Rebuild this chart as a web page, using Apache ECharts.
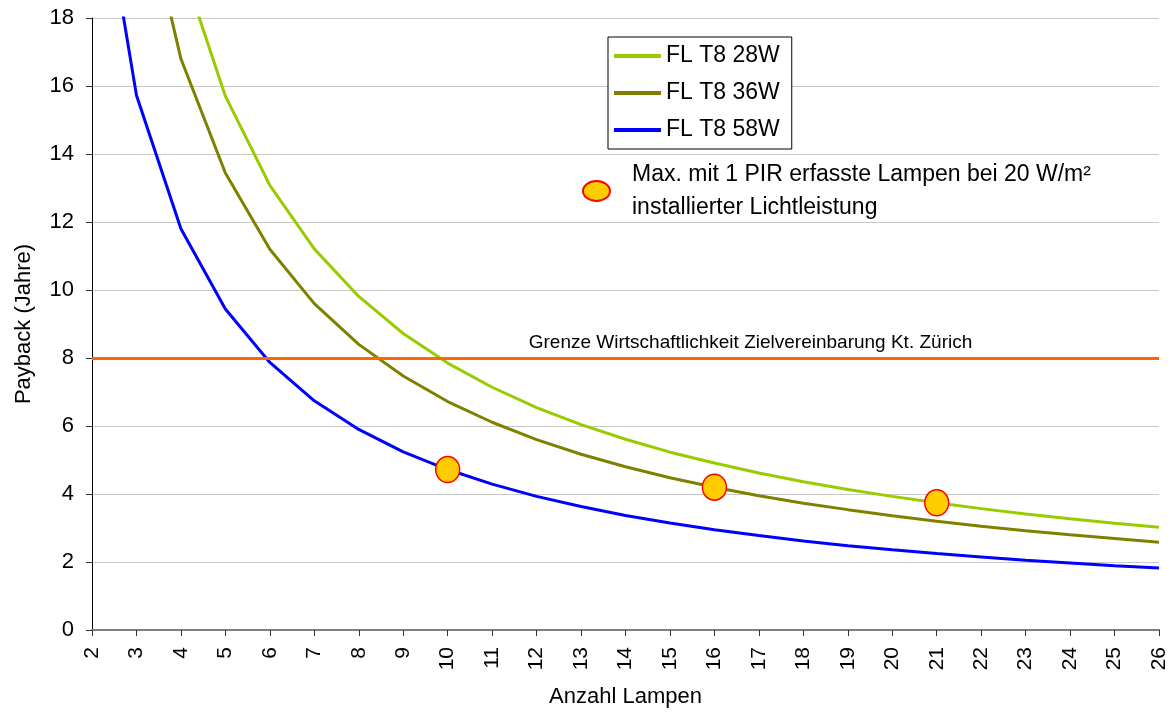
<!DOCTYPE html>
<html>
<head>
<meta charset="utf-8">
<script src="https://cdn.jsdelivr.net/npm/echarts@6/dist/echarts.min.js"></script>
<style>
html,body{margin:0;padding:0;background:#fff;}
#chart{width:1173px;height:713px;}
</style>
</head>
<body>
<div id="chart"></div>
<script>
// Categories: number of lamps
const lampCounts = ['2','3','4','5','6','7','8','9','10','11','12','13','14','15','16','17','18','19','20','21','22','23','24','25','26'];
// Payback (years)
const fl28 = [39.25, 26.17, 19.63, 15.70, 13.08, 11.21, 9.81, 8.72, 7.85, 7.14, 6.54, 6.04, 5.61, 5.23, 4.91, 4.62, 4.36, 4.13, 3.93, 3.74, 3.57, 3.41, 3.27, 3.14, 3.02];
const fl36 = [33.6, 22.4, 16.8, 13.44, 11.2, 9.6, 8.4, 7.47, 6.72, 6.11, 5.6, 5.17, 4.8, 4.48, 4.2, 3.95, 3.73, 3.54, 3.36, 3.2, 3.05, 2.92, 2.8, 2.69, 2.58];
const fl58 = [23.6, 15.73, 11.8, 9.44, 7.87, 6.74, 5.9, 5.24, 4.72, 4.29, 3.93, 3.63, 3.37, 3.15, 2.95, 2.78, 2.62, 2.48, 2.36, 2.25, 2.15, 2.05, 1.97, 1.89, 1.82];
// Max. lamps covered by one PIR
const pirX = ['10', '16', '21'];
const pirY = [4.72, 4.2, 3.74];
// Economic limit
const limitValue = 8;
const limitLabel = 'Grenze Wirtschaftlichkeit Zielvereinbarung Kt. Zürich';
const seriesNames = ['FL T8 28W', 'FL T8 36W', 'FL T8 58W'];
const pirName = 'Max. mit 1 PIR erfasste Lampen bei 20 W/m²\ninstallierter Lichtleistung';
const yTicks = {min: 0, max: 18, interval: 2};

const FONT = '"Liberation Sans", Arial, sans-serif';
const chart = echarts.init(document.getElementById('chart'), null, {renderer: 'canvas'});

const option = {
  backgroundColor: '#ffffff',
  animation: false,
  textStyle: {fontFamily: FONT, color: '#000'},
  grid: {left: 92, right: 14, top: 18, bottom: 82, containLabel: false},
  legend: [
    {
      data: seriesNames.map(n => ({name: n, icon: 'rect'})),
      orient: 'vertical',
      left: 608,
      top: 37,
      padding: [7, 12, 7, 6],
      itemGap: 13,
      itemWidth: 47,
      itemHeight: 4,
      backgroundColor: '#fff',
      borderColor: '#000',
      borderWidth: 1,
      textStyle: {fontFamily: FONT, fontSize: 23, color: '#000', lineHeight: 24},
      selectedMode: false
    },
    {
      data: [{name: pirName, icon: 'path://M0,10A13.5,10,0,1,1,27,10A13.5,10,0,1,1,0,10Z'}],
      orient: 'vertical',
      left: 582,
      top: 158,
      padding: 0,
      itemWidth: 27,
      itemHeight: 20,
      itemGap: 0,
      textStyle: {fontFamily: FONT, fontSize: 23, color: '#000', lineHeight: 33, padding: [0, 0, 0, 17]},
      selectedMode: false
    }
  ],
  xAxis: {
    type: 'category',
    data: lampCounts,
    boundaryGap: false,
    name: 'Anzahl Lampen',
    nameLocation: 'middle',
    nameGap: 56,
    nameTextStyle: {fontFamily: FONT, fontSize: 22, color: '#000'},
    axisLine: {show: true, onZero: false, lineStyle: {color: '#808080', width: 2}},
    axisTick: {show: true, alignWithLabel: true, length: 6, lineStyle: {color: '#333', width: 1}},
    axisLabel: {rotate: 90, margin: 17, fontFamily: FONT, fontSize: 21, color: '#000', interval: 0},
    splitLine: {show: false}
  },
  yAxis: {
    type: 'value',
    min: yTicks.min,
    max: yTicks.max,
    interval: yTicks.interval,
    name: 'Payback (Jahre)',
    nameLocation: 'middle',
    nameGap: 57,
    nameTextStyle: {fontFamily: FONT, fontSize: 22, color: '#000'},
    axisLine: {show: true, lineStyle: {color: '#000', width: 1}},
    axisTick: {show: true, inside: false, length: 6, lineStyle: {color: '#333', width: 1}},
    axisLabel: {margin: 18, fontFamily: FONT, fontSize: 22, color: '#000'},
    splitLine: {show: true, lineStyle: {color: '#c8c8c8', width: 1}}
  },
  series: [
    {
      name: seriesNames[0], type: 'line', data: fl28, symbol: 'none', smooth: false,
      lineStyle: {color: '#99cc00', width: 3}, itemStyle: {color: '#99cc00'}, z: 3
    },
    {
      name: seriesNames[1], type: 'line', data: fl36, symbol: 'none', smooth: false,
      lineStyle: {color: '#808000', width: 3}, itemStyle: {color: '#808000'}, z: 3
    },
    {
      name: seriesNames[2], type: 'line', data: fl58, symbol: 'none', smooth: false,
      lineStyle: {color: '#0000ff', width: 3}, itemStyle: {color: '#0000ff'}, z: 3,
      markLine: {
        silent: true,
        symbol: ['none', 'none'],
        lineStyle: {color: '#ff6600', width: 3, type: 'solid'},
        label: {
          show: true,
          position: 'insideMiddleTop',
          formatter: limitLabel,
          fontFamily: FONT,
          fontSize: 19,
          color: '#000',
          distance: 6,
          padding: [0, 0, 0, 250]
        },
        emphasis: {disabled: true},
        data: [{yAxis: limitValue}]
      }
    },
    {
      name: pirName, type: 'scatter',
      data: pirX.map((x, i) => [x, pirY[i]]),
      symbol: 'circle', symbolSize: [24, 26],
      itemStyle: {color: '#ffcc00', borderColor: '#ff0000', borderWidth: 1.5, opacity: 1},
      z: 5
    }
  ]
};
chart.setOption(option);
</script>
</body>
</html>
